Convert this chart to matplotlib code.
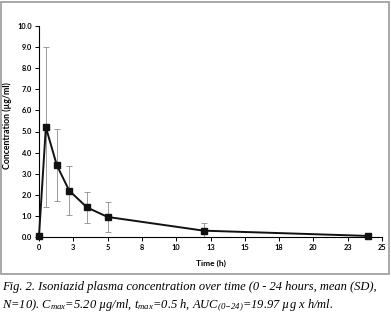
import matplotlib
matplotlib.use("Agg")
import matplotlib.pyplot as plt
from matplotlib.patches import Rectangle

# mean (SD) isoniazid concentration
time_h = [0, 0.5, 1.3, 2.2, 3.5, 5.0, 12.0, 24.0]
conc = [0.05, 5.2, 3.4, 2.2, 1.4, 0.95, 0.3, 0.05]
sd = [0.05, 3.8, 1.7, 1.15, 0.73, 0.72, 0.38, 0.03]

x_ticks = [0, 2.5, 5, 7.5, 10, 12.5, 15, 17.5, 20, 22.5, 25]
x_ticklabels = ["0", "3", "5", "8", "10", "13", "15", "18", "20", "23", "25"]
y_ticks = [0, 1, 2, 3, 4, 5, 6, 7, 8, 9, 10]

caption1 = "Fig. 2. Isoniazid plasma concentration over time (0 - 24 hours, mean (SD),"
caption2 = (r"N=10). $C_{max}$=5.20 µg/ml, $t_{max}$=0.5 h, "
            r"$AUC_{(0\mathrm{-}24)}$=19.97 µg x h/ml.")

plt.rcParams["mathtext.fontset"] = "custom"
plt.rcParams["mathtext.rm"] = "Liberation Serif:italic"
plt.rcParams["mathtext.it"] = "Liberation Serif:italic"

W, H = 391, 317
fig = plt.figure(figsize=(W / 100, H / 100), dpi=100)

# grey frame around the chart area
fig.patches.append(Rectangle((1 / W, 1 - 274 / H), 388 / W, 272 / H,
                             transform=fig.transFigure, fill=False,
                             edgecolor="#9a9a9a", lw=1.2))

ax = fig.add_axes([39 / W, 1 - 237 / H, (382 - 39) / W, (237 - 26) / H])
ax.errorbar(time_h, conc, yerr=sd, fmt="none", ecolor="#8c8c8c",
            elinewidth=0.6, capsize=2.2, capthick=0.6, zorder=2)
ax.plot(time_h, conc, "s-", color="#111111", lw=1.4, ms=4, zorder=3,
        clip_on=False)

ax.set_xlim(0, 25)
ax.set_ylim(0, 10)
ax.set_xticks(x_ticks)
ax.set_xticklabels(x_ticklabels)
ax.set_yticks(y_ticks)
ax.set_yticklabels([f"{v:.1f}" for v in y_ticks])
for side in ("top", "right"):
    ax.spines[side].set_visible(False)
for side in ("left", "bottom"):
    ax.spines[side].set_linewidth(0.8)
ax.tick_params(length=3, width=0.7, pad=2, labelsize=5.3)
for lab in ax.get_xticklabels() + ax.get_yticklabels():
    lab.set_fontweight("bold")
    lab.set_family("Lato")

ax.set_xlabel("Time (h)", fontsize=6, fontweight="bold", family="Lato")
ax.set_ylabel("Concentration (µg/ml)", fontsize=6.3, fontweight="bold",
              family="Lato")
ax.xaxis.set_label_coords(0.5, -0.11)
ax.yaxis.set_label_coords(-0.079, 0.528)

fig.text(2 / W, 1 - 290 / H, caption1, fontsize=9.0, style="italic",
         family="Liberation Serif", va="baseline")
fig.text(2 / W, 1 - 308 / H, caption2, fontsize=9.0, style="italic",
         family="Liberation Serif", va="baseline")

fig.savefig("out.png", dpi=100)
